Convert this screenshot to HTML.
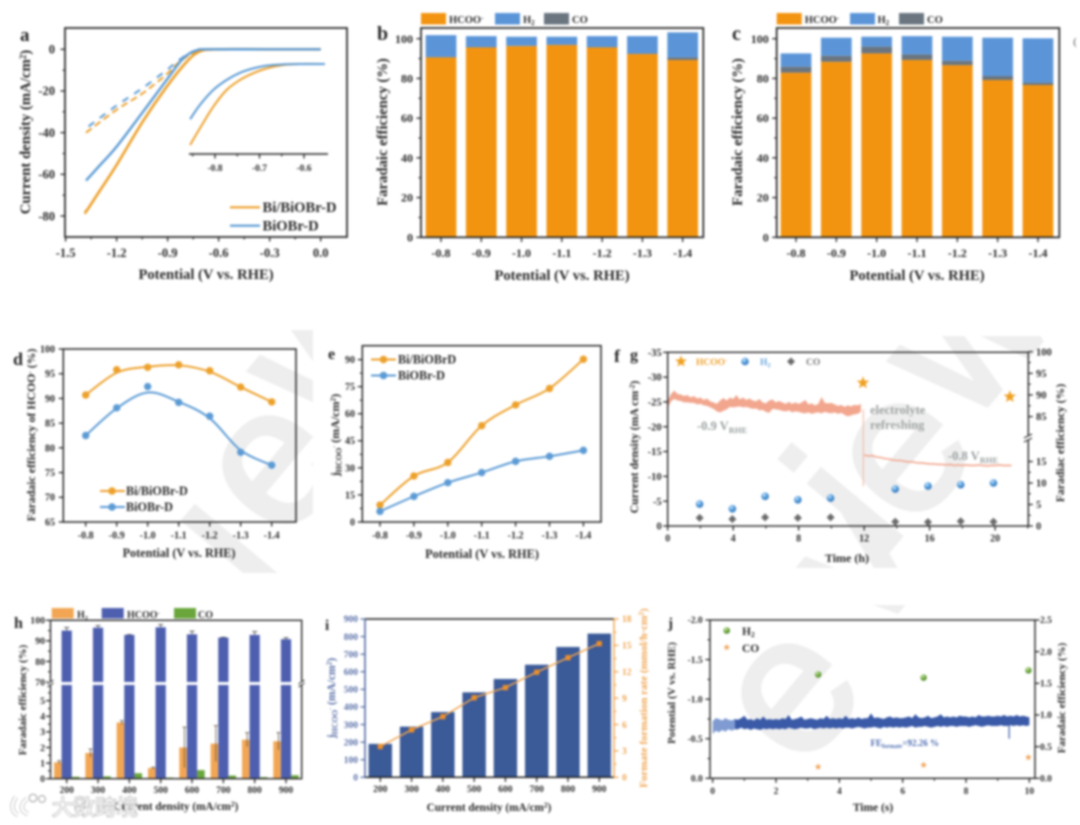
<!DOCTYPE html>
<html lang="en">
<head>
<meta charset="utf-8">
<title>Electrocatalysis figure panels a-j</title>
<style>
html,body{margin:0;padding:0;background:#fff;width:1080px;height:825px;overflow:hidden}
svg{display:block;overflow:hidden;filter:blur(1px)}
svg text{font-family:"Liberation Serif","Noto Serif CJK SC",serif;font-weight:bold;fill:#2a2a2a}
svg text.wm{font-family:"Liberation Sans",sans-serif;font-weight:normal;font-size:195px;fill:#eeeeee;stroke:#eeeeee;stroke-width:5}
</style>
</head>
<body>
<svg id="fig" width="1080" height="825" viewBox="0 0 1080 825" xmlns="http://www.w3.org/2000/svg">
<defs>
<radialGradient id="ballBlue" cx="38%" cy="32%" r="70%"><stop offset="0" stop-color="#d7ecff"/><stop offset=".45" stop-color="#5aa2e0"/><stop offset="1" stop-color="#3577b8"/></radialGradient>
<radialGradient id="ballGreen" cx="38%" cy="32%" r="70%"><stop offset="0" stop-color="#d6eeb8"/><stop offset=".5" stop-color="#72ab42"/><stop offset="1" stop-color="#4c8528"/></radialGradient>
<clipPath id="wmClip"><rect x="0" y="330" width="313" height="243"/><rect x="610" y="336" width="470" height="232"/><rect x="610" y="605" width="470" height="220"/></clipPath>
</defs>
<rect width="1080" height="825" fill="#fff"/>

<g clip-path="url(#wmClip)">
<text class="wm" transform="translate(215 535) rotate(-50)" y="70" text-anchor="middle">ı</text>
<text class="wm" transform="translate(278 470) rotate(-50)" y="51" text-anchor="middle">e</text>
<text class="wm" transform="translate(335 350) rotate(-50)" y="51" text-anchor="middle">w</text>
<text class="wm" transform="translate(841 498) rotate(-50)" y="70" text-anchor="middle">i</text>
<text class="wm" transform="translate(908 458) rotate(-50)" y="51" text-anchor="middle">e</text>
<text class="wm" transform="translate(975 340) rotate(-50)" y="51" text-anchor="middle">w</text>
<text class="wm" transform="translate(797 698) rotate(-50)" y="51" text-anchor="middle">e</text>
<text class="wm" transform="translate(865 570) rotate(-50)" y="51" text-anchor="middle">v</text>
</g>

<!-- Panel a -->
<g>
<g id="marks-a"></g>
<text x="20" y="41" font-size="19">a</text>
<text transform="translate(30 132) rotate(-90)" text-anchor="middle" font-size="14.8">Current density (mA/cm<tspan dy="-4" font-size="9">2</tspan><tspan dy="4">)</tspan></text>
<text x="206" y="279" text-anchor="middle" font-size="14.6">Potential (V vs. RHE)</text>
<line x1="230" x2="260" y1="207.3" y2="207.3" stroke="#eda12c" stroke-width="2.2"/>
<text x="262.5" y="212" font-size="14.6">Bi/BiOBr-D</text>
<line x1="230" x2="260" y1="225.7" y2="225.7" stroke="#5c9bd5" stroke-width="2.2"/>
<text x="262.5" y="230.5" font-size="14.6">BiOBr-D</text>
</g>

<!-- Panel b -->
<g>
<g id="marks-b"></g>
<text x="377" y="40" font-size="20">b</text>
<text transform="translate(387 132) rotate(-90)" text-anchor="middle" font-size="14.7">Faradaic efficiency (%)</text>
<text x="562" y="280" text-anchor="middle" font-size="14.6">Potential (V vs. RHE)</text>
<rect x="421" y="13" width="25" height="11.5" fill="#f39410"/>
<text x="449" y="23" font-size="10.5">HCOO<tspan dy="-3" font-size="7">-</tspan></text>
<rect x="495" y="13" width="25" height="11.5" fill="#5b95d8"/>
<text x="523" y="23" font-size="10.5">H<tspan dy="2" font-size="7">2</tspan></text>
<rect x="544" y="13" width="25" height="11.5" fill="#6a7580"/>
<text x="572" y="23" font-size="10.5">CO</text>
</g>

<!-- Panel c -->
<g>
<g id="marks-c"></g>
<text x="732" y="40" font-size="20">c</text>
<text transform="translate(742 132) rotate(-90)" text-anchor="middle" font-size="14.7">Faradaic efficiency (%)</text>
<text x="917" y="280" text-anchor="middle" font-size="14.6">Potential (V vs. RHE)</text>
<rect x="776.7" y="13" width="25" height="11.5" fill="#f39410"/>
<text x="804.7" y="23" font-size="10.5">HCOO<tspan dy="-3" font-size="7">-</tspan></text>
<rect x="850" y="13" width="25" height="11.5" fill="#5b95d8"/>
<text x="877.5" y="23" font-size="10.5">H<tspan dy="2" font-size="7">2</tspan></text>
<rect x="899" y="13" width="25" height="11.5" fill="#6a7580"/>
<text x="927" y="23" font-size="10.5">CO</text>
<text x="1073" y="45" font-size="11" style="fill:#888">(</text>
</g>

<!-- Panel d -->
<g>
<g id="marks-d"></g>
<text x="13" y="365" font-size="18">d</text>
<text transform="translate(35 435) rotate(-90)" text-anchor="middle" font-size="11.8">Faradaic efficiency of HCOO<tspan dy="-3" font-size="7.5">-</tspan><tspan dy="3"> (%)</tspan></text>
<text x="179" y="557" text-anchor="middle" font-size="12.2">Potential (V vs. RHE)</text>
<line x1="100" x2="125" y1="491" y2="491" stroke="#eda12c" stroke-width="2"/>
<circle cx="112" cy="491" r="3.8" fill="#eda12c"/>
<text x="126" y="495" font-size="12.2">Bi/BiOBr-D</text>
<line x1="100" x2="125" y1="507" y2="507" stroke="#5c9bd5" stroke-width="2"/>
<circle cx="112" cy="507" r="3.8" fill="#5c9bd5"/>
<text x="126" y="511" font-size="12.2">BiOBr-D</text>
</g>

<!-- Panel e -->
<g>
<g id="marks-e"></g>
<text x="328" y="359" font-size="16">e</text>
<text transform="translate(339 435) rotate(-90)" text-anchor="middle" font-size="12">j<tspan dy="2.5" font-size="8">HCOO</tspan><tspan dy="-5.5" font-size="6">-</tspan><tspan dy="3"> (mA/cm</tspan><tspan dy="-3.5" font-size="7.5">2</tspan><tspan dy="3.5">)</tspan></text>
<text x="482" y="558" text-anchor="middle" font-size="12.3">Potential (V vs. RHE)</text>
<line x1="371" x2="396" y1="359.5" y2="359.5" stroke="#eda12c" stroke-width="2"/>
<circle cx="383.5" cy="359.5" r="3.8" fill="#eda12c"/>
<text x="398" y="363.5" font-size="12.2">Bi/BiOBrD</text>
<line x1="371" x2="396" y1="375.5" y2="375.5" stroke="#5c9bd5" stroke-width="2"/>
<circle cx="383.5" cy="375.5" r="3.8" fill="#5c9bd5"/>
<text x="398" y="379.5" font-size="12.2">BiOBr-D</text>
</g>

<!-- Panel f -->
<g>
<g id="marks-f"></g>
<text x="614" y="362" font-size="18">f</text>
<text x="630" y="360" font-size="16">g</text>
<text transform="translate(638 447) rotate(-90)" text-anchor="middle" font-size="11.8">Current density (mA cm<tspan dy="-3.5" font-size="7.5">-2</tspan><tspan dy="3.5">)</tspan></text>
<text transform="translate(1064 443) rotate(-90)" text-anchor="middle" font-size="11.8">Faradiac efficiency  (%)</text>
<text x="847" y="562" text-anchor="middle" font-size="12">Time (h)</text>
<text x="697" y="430" font-size="12.5" style="fill:#9aa0a0">-0.9 V<tspan dy="3" font-size="8.5" style="fill:#9aa0a0">RHE</tspan></text>
<text x="870" y="414" font-size="12.5" style="fill:#a0a4a4">electrolyte</text>
<text x="870" y="429" font-size="12.5" style="fill:#a0a4a4">refreshing</text>
<text x="948" y="460" font-size="12.5" style="fill:#9aa0a0">-0.8 V<tspan dy="3" font-size="8.5" style="fill:#9aa0a0">RHE</tspan></text>
<text x="696" y="365" font-size="9.5" style="fill:#eda12c">HCOO<tspan dy="-3" font-size="6.5" style="fill:#eda12c">-</tspan></text>
<circle cx="745" cy="361.5" r="3.8" fill="url(#ballBlue)"/>
<text x="760" y="365" font-size="9.5" style="fill:#6aa5dc">H<tspan dy="2" font-size="6.5" style="fill:#6aa5dc">2</tspan></text>
<text x="806" y="365" font-size="9.5" style="fill:#777">CO</text>
</g>

<!-- Panel h -->
<g>
<g id="marks-h"></g>
<text x="14" y="628" font-size="16">h</text>
<text transform="translate(26 700) rotate(-90)" text-anchor="middle" font-size="11">Faradaic efficiency (%)</text>
<text x="176" y="810" text-anchor="middle" font-size="11.2">Current density (mA/cm<tspan dy="-3.5" font-size="7.5">2</tspan><tspan dy="3.5">)</tspan></text>
<rect x="51.7" y="608" width="22" height="10.5" fill="#f2a654"/>
<text x="77" y="618" font-size="10">H<tspan dy="2" font-size="6.5">2</tspan></text>
<rect x="101.7" y="608" width="22" height="10.5" fill="#4e5fb0"/>
<text x="127" y="618" font-size="10">HCOO<tspan dy="-3" font-size="6.5">-</tspan></text>
<rect x="174" y="608" width="22" height="10.5" fill="#6aa63c"/>
<text x="198" y="618" font-size="10">CO</text>
</g>

<!-- Panel i -->
<g>
<g id="marks-i"></g>
<text x="325" y="630" font-size="15">i</text>
<text transform="translate(335 698) rotate(-90)" text-anchor="middle" font-size="11.5" style="fill:#5a70a8">j<tspan dy="2.5" font-size="8" style="fill:#5a70a8">HCOO</tspan><tspan dy="-5.5" font-size="6" style="fill:#5a70a8">-</tspan><tspan dy="3" style="fill:#5a70a8"> (mA/cm</tspan><tspan dy="-3.5" font-size="7.5" style="fill:#5a70a8">2</tspan><tspan dy="3.5" style="fill:#5a70a8">)</tspan></text>
<text transform="translate(647 698) rotate(-90)" text-anchor="middle" font-size="11" style="fill:#f0a552">Formate formation rate (mmol/h·cm<tspan dy="-3.5" font-size="7.5" style="fill:#f0a552">2</tspan><tspan dy="3.5" style="fill:#f0a552">)</tspan></text>
<text x="489" y="811" text-anchor="middle" font-size="11.2">Current density (mA/cm<tspan dy="-3.5" font-size="7.5">2</tspan><tspan dy="3.5">)</tspan></text>
</g>

<!-- Panel j -->
<g>
<g id="marks-j"></g>
<text x="668" y="628" font-size="15">j</text>
<text transform="translate(675 693) rotate(-90)" text-anchor="middle" font-size="11">Potential (V vs. RHE)</text>
<text transform="translate(1065 698) rotate(-90)" text-anchor="middle" font-size="11">Faradaic efficiency (%)</text>
<text x="873" y="811" text-anchor="middle" font-size="11.5">Time (s)</text>
<text x="870.5" y="746" font-size="9" style="fill:#4a6ab0">FE<tspan dy="2" font-size="6" style="fill:#4a6ab0">formate</tspan><tspan dy="-2" style="fill:#4a6ab0">=92.26 %</tspan></text>
<circle cx="726.7" cy="630.5" r="3.3" fill="url(#ballGreen)"/>
<text x="742" y="635" font-size="11.5">H<tspan dy="2" font-size="7.5">2</tspan></text>
<text x="742" y="652" font-size="11.5">CO</text>
</g>

<!-- Site watermark -->
<g>
<path d="M16 797 C11 804 11 812 18 815 M27 799 C20 804 20 811 28 814" fill="none" stroke="#b5b5b5" stroke-width="4.4"/>
<path d="M16 797 C11 804 11 812 18 815 M27 799 C20 804 20 811 28 814" fill="none" stroke="#fff" stroke-width="3"/>
<circle cx="33" cy="798" r="3.8" fill="#fff" stroke="#aaa" stroke-width="1.1"/>
<circle cx="42" cy="799" r="3.4" fill="#fff" stroke="#aaa" stroke-width="1.1"/>
<text x="52" y="815" font-size="21.5" style="font-family:'Noto Sans CJK SC','WenQuanYi Zen Hei',sans-serif;font-weight:normal;fill:#fff;stroke:#a8a8a8;stroke-width:1.2;paint-order:stroke">大数跨境</text>
</g>
</svg>

<script>
/* ---------- Panel a data ---------- */
const aXTicks = [-1.5,-1.2,-0.9,-0.6,-0.3,0];
const aXLabels = ['-1.5','-1.2','-0.9','-0.6','-0.3','0.0'];
const aXMinor = [-1.35,-1.05,-0.75,-0.45,-0.15];
const aYTicks = [0,-20,-40,-60,-80];
const aYMinor = [-10,-30,-50,-70];
const aV1 = [-1.385,-1.38,-1.372,-1.3,-1.2,-1.045,-0.906,-0.788,-0.71,-0.61,-0.3,0.0];
const aBiSolid = [-79,-77.5,-77,-68,-55.5,-34.5,-18,-6,-1,0,0,0];
const aV2 = [-1.38,-1.3,-1.2,-1.045,-0.906,-0.808,-0.73,-0.66,-0.3,0.0];
const aBlueSolid = [-63,-55.8,-46.7,-30,-14.7,-4.3,-0.5,0,0,0];
const aV3 = [-1.38,-1.2,-1.045,-0.906,-0.83,-0.73,-0.63,-0.3,0.0];
const aBiDash = [-40,-29,-21,-12,-6,-1,0,0,0];
const aV4 = [-1.365,-1.2,-1.045,-0.906,-0.83,-0.75,-0.65,-0.3,0.0];
const aBlueDash = [-37,-27,-18.5,-10,-5,-1,0,0,0];
const insetV = [-0.856,-0.834,-0.804,-0.774,-0.744,-0.714,-0.684,-0.647,-0.609,-0.553];
const insetBi = [-20.25,-16.1,-10.7,-6.5,-4,-2.3,-1.1,-0.25,0,0];
const insetBlue = [-13.8,-10.25,-6.5,-4,-2.2,-1.1,-0.4,-0.1,0,0];
const insetTicks = [-0.8,-0.7,-0.6];
const insetLabels = ['-0.8','-0.7','-0.6'];
const insetMinor = [-0.85,-0.75,-0.65];

/* ---------- Shared potential categories ---------- */
const potentialLabels = ['-0.8','-0.9','-1.0','-1.1','-1.2','-1.3','-1.4'];
const feTicks = [0,20,40,60,80,100];
const feMinor = [10,30,50,70,90];

/* ---------- Panel b data ---------- */
const bHcoo = [90.6,95.6,96.3,96.8,95.6,92.3,89.3];
const bCo = [0.2,0.2,0.1,0.2,0.2,0.2,1.3];
const bH2 = [11,5.5,4.6,4.0,5.5,8.8,12.6];

/* ---------- Panel c data ---------- */
const cHcoo = [82.9,88.4,92.6,89.3,86.7,79.2,76.7];
const cCo = [3.0,3.0,3.4,2.8,2.2,2.0,1.2];
const cH2 = [6.7,9.1,5.0,9.2,12.1,19.3,22.3];

/* ---------- Panel d data ---------- */
const dYTicks = [65,70,75,80,85,90,95,100];
const dBiPoints = [90.7,95.8,96.3,96.8,95.6,92.3,89.3];
const dBiFit = [90.7,95.2,96.4,96.7,95.4,92.3,89.3];
const dBluePoints = [82.5,88.1,92.4,89.2,86.4,79.1,76.5];
const dBlueFit = [82.5,88,91.2,89.3,86,79.5,76.5];

/* ---------- Panel e data ---------- */
const eYTicks = [0,15,30,45,60,75,90];
const eYMinor = [7.5,22.5,37.5,52.5,67.5,82.5];
const eBi = [9.4,25.5,33,53.4,64.9,74,90.2];
const eBlue = [5.9,14.2,21.8,27.4,33.6,36.4,39.7];

/* ---------- Panel f data ---------- */
const fXTicks = [0,4,8,12,16,20];
const fXMinor = [2,6,10,14,18,22];
const fYTicks = [0,-5,-10,-15,-20,-25,-30,-35];
const fYLabels = ['0','-5','-10','-15','-20','-25','-30','-35'];
const fRightTicks = [0,5,10,15,85,90,95,100];
const currentStepA = 0.2;
const currentAUpper = [
-25.2,-26.6,-27.3,-26.6,-26.5,-26.2,-26.4,-25.9,-26.2,-25.7,
-25.9,-25.4,-25.7,-25.1,-24.9,-24.6,-25.3,-25.8,-25.3,-25.9,
-25.6,-26.4,-25.5,-25.9,-25.4,-25.7,-25.3,-25.1,-25.6,-24.9,
-24.7,-25.3,-25.5,-24.9,-25.2,-24.9,-24.6,-25.0,-24.6,-24.9,
-24.6,-24.9,-25.4,-24.5,-24.7,-24.3,-24.6,-26.0,-24.8,-24.7,
-24.8,-24.5,-24.2,-24.4,-24.0,-24.3,-24.1,-24.4,-24.3,-24.6];
const currentALower = [
-23.8,-25.1,-25.6,-25.3,-25.2,-24.9,-24.9,-24.8,-24.8,-24.5,
-24.6,-24.3,-24.2,-23.9,-23.6,-23.1,-22.9,-23.2,-23.5,-24.0,
-23.9,-24.0,-24.1,-23.9,-24.0,-23.8,-23.6,-23.7,-23.3,-23.4,
-23.0,-22.8,-23.6,-23.5,-23.4,-23.2,-23.1,-23.3,-22.9,-23.1,
-23.0,-22.8,-22.7,-22.9,-22.6,-22.8,-22.9,-22.7,-23.0,-22.8,
-22.7,-22.9,-22.6,-22.8,-22.4,-22.1,-22.3,-22.5,-22.6,-23.0];
const spikeTime = 11.95;
const spikeTop = -23.5;
const spikeBottom = -8;
const currentStartB = 12;
const currentStepB = 0.25;
const currentB = [-14.3,-14.1,-14.2,-13.9,-13.8,-13.6,-13.5,-13.3,-13.2,-13.2,-13.0,-12.9,-12.9,-12.7,-12.7,-12.6,-12.5,-12.5,-12.4,-12.4,-12.3,-12.4,-12.2,-12.3,-12.2,-12.3,-12.2,-12.2,-12.3,-12.2,-12.1,-12.2,-12.2,-12.3,-12.2,-12.2,-12.2];
const fHcooTimes = [11.93,20.9];
const fHcooValues = [92.8,89.6];
const fSampleTimes = [1.95,3.95,5.95,7.95,9.95,13.9,15.9,17.9,19.9];
const fH2Values = [5.1,4,6.9,6.1,6.5,8.6,9.3,9.6,10];
const fCoValues = [1.9,1.6,2,1.9,2,1,0.9,1.1,1];

/* ---------- Panel h data ---------- */
const hCategories = ['200','300','400','500','600','700','800','900'];
const hHcoo = [95,96.4,92.9,96.6,93.2,91.6,92.9,90.8];
const hHcooErr = [1.5,1,0.1,1.3,1.5,0.1,1.6,0.7];
const hH2 = [1.05,1.65,3.6,0.68,2,2.25,2.5,2.4];
const hH2Err = [0.1,0.25,0.12,0.05,1.3,1.15,0.45,0.55];
const hCo = [0.12,0.15,0.35,0.07,0.55,0.2,0.1,0.22];
const hLowTicks = [0,1,2,3,4,5];
const hHighTicks = [70,80,90,100];
const hLowMinor = [0.5,1.5,2.5,3.5,4.5,5.5];
const hHighMinor = [75,85,95];

/* ---------- Panel i data ---------- */
const iCategories = ['200','300','400','500','600','700','800','900'];
const iBars = [190,288,371,483,559,640,741,817];
const iRate = [3.5,5.4,6.9,9.05,10.2,11.95,13.6,15.2];
const iLeftTicks = [0,100,200,300,400,500,600,700,800,900];
const iRightTicks = [0,3,6,9,12,15,18];
const iRightMinor = [1.5,4.5,7.5,10.5,13.5,16.5];

/* ---------- Panel j data ---------- */
const jXTicks = [0,2,4,6,8,10];
const jXMinor = [1,3,5,7,9];
const jLeftTicks = [0,-0.5,-1,-1.5,-2];
const jLeftLabels = ['0.0','-0.5','-1.0','-1.5','-2.0'];
const jLeftMinor = [-0.25,-0.75,-1.25,-1.75];
const jRightTicks = [0,0.5,1,1.5,2,2.5];
const jRightLabels = ['0.0','0.5','1.0','1.5','2.0','2.5'];
const potentialStep = 0.1;
const potentialUpper = [
-0.72,-0.76,-0.75,-0.73,-0.76,-0.74,-0.73,-0.75,-0.74,-0.76,
-0.79,-0.74,-0.75,-0.73,-0.76,-0.74,-0.78,-0.74,-0.75,-0.74,
-0.75,-0.74,-0.76,-0.75,-0.80,-0.74,-0.75,-0.76,-0.78,-0.74,
-0.75,-0.76,-0.75,-0.74,-0.76,-0.75,-0.79,-0.75,-0.76,-0.75,
-0.76,-0.75,-0.79,-0.75,-0.76,-0.75,-0.77,-0.75,-0.76,-0.76,
-0.82,-0.76,-0.77,-0.76,-0.75,-0.77,-0.78,-0.76,-0.77,-0.76,
-0.76,-0.77,-0.78,-0.76,-0.81,-0.77,-0.76,-0.77,-0.79,-0.76,
-0.77,-0.78,-0.81,-0.77,-0.78,-0.77,-0.78,-0.77,-0.79,-0.78,
-0.78,-0.77,-0.78,-0.77,-0.80,-0.78,-0.78,-0.79,-0.78,-0.78,
-0.79,-0.78,-0.80,-0.78,-0.79,-0.78,-0.80,-0.78,-0.79,-0.78,-0.77];
const potentialLower = [
-0.56,-0.60,-0.58,-0.61,-0.59,-0.62,-0.60,-0.62,-0.62,-0.64,
-0.62,-0.63,-0.61,-0.63,-0.62,-0.61,-0.63,-0.62,-0.63,-0.62,
-0.63,-0.62,-0.63,-0.62,-0.64,-0.63,-0.62,-0.63,-0.64,-0.63,
-0.63,-0.64,-0.62,-0.63,-0.64,-0.63,-0.64,-0.63,-0.64,-0.63,
-0.64,-0.63,-0.64,-0.64,-0.63,-0.64,-0.65,-0.64,-0.63,-0.64,
-0.64,-0.65,-0.64,-0.63,-0.65,-0.64,-0.65,-0.64,-0.65,-0.64,
-0.65,-0.64,-0.65,-0.66,-0.64,-0.65,-0.65,-0.66,-0.65,-0.64,
-0.65,-0.66,-0.65,-0.66,-0.65,-0.66,-0.66,-0.65,-0.66,-0.66,
-0.66,-0.65,-0.66,-0.67,-0.66,-0.65,-0.66,-0.67,-0.66,-0.66,
-0.66,-0.67,-0.66,-0.66,-0.67,-0.66,-0.67,-0.66,-0.67,-0.66,-0.67];
const jDipTime = 9.36;
const jDipValue = -0.5;
const jDipStart = -0.68;
const jSampleTimes = [3.33,6.66,9.97];
const jH2 = [1.64,1.59,1.705];
const jCo = [0.18,0.21,0.33];

/* ---------- Helpers ---------- */
const NS = 'http://www.w3.org/2000/svg';
function add(parent, tag, attrs, name, text) {
  const el = document.createElementNS(NS, tag);
  for (const k in attrs) el.setAttribute(k, attrs[k]);
  
  
  if (text !== undefined) el.textContent = text;
  parent.appendChild(el);
  return el;
}
function linear(d0, d1, r0, r1) { return v => r0 + (v - d0) * (r1 - r0) / (d1 - d0); }
function band(first, step) { return i => first + i * step; }
const INK = '#262626';
function axisBottom(g, sx, ticks, labels, minors, y, labelY, size, color) {
  ticks.forEach((t, i) => {
    add(g, 'line', {x1:sx(t),x2:sx(t),y1:y,y2:y+4.5,stroke:color||INK,'stroke-width':1.3}, 'x-tick');
    add(g, 'text', {x:sx(t),y:labelY,'text-anchor':'middle','font-size':size}, 'x-tick-label', labels[i]);
  });
  (minors||[]).forEach(t => add(g, 'line', {x1:sx(t),x2:sx(t),y1:y,y2:y+2.5,stroke:color||INK,'stroke-width':1.1}, 'x-minor-tick'));
}
function axisSide(g, sy, ticks, labels, minors, x, dir, labelX, size, color, textColor) {
  ticks.forEach((t, i) => {
    add(g, 'line', {x1:x,x2:x+dir*4.5,y1:sy(t),y2:sy(t),stroke:color||INK,'stroke-width':1.3}, 'y-tick');
    const lab = add(g, 'text', {x:labelX,y:sy(t)+size*0.34,'text-anchor':dir<0?'end':'start','font-size':size}, 'y-tick-label', labels[i]);
    if (textColor) lab.style.fill = textColor;
  });
  (minors||[]).forEach(t => add(g, 'line', {x1:x,x2:x+dir*2.5,y1:sy(t),y2:sy(t),stroke:color||INK,'stroke-width':1.1}, 'y-minor-tick'));
}
function frame(g, x0, y0, x1, y1, w) {
  add(g, 'rect', {x:x0,y:y0,width:x1-x0,height:y1-y0,fill:'none',stroke:INK,'stroke-width':w||1.7}, 'plot-frame');
}
function smooth(pts) {
  let d = 'M' + pts[0][0].toFixed(2) + ' ' + pts[0][1].toFixed(2);
  for (let i = 0; i < pts.length - 1; i++) {
    const p0 = pts[i-1] || pts[i], p1 = pts[i], p2 = pts[i+1], p3 = pts[i+2] || p2;
    const c1x = p1[0] + (p2[0]-p0[0])/6, c1y = p1[1] + (p2[1]-p0[1])/6;
    const c2x = p2[0] - (p3[0]-p1[0])/6, c2y = p2[1] - (p3[1]-p1[1])/6;
    d += 'C' + c1x.toFixed(2)+' '+c1y.toFixed(2)+' '+c2x.toFixed(2)+' '+c2y.toFixed(2)+' '+p2[0].toFixed(2)+' '+p2[1].toFixed(2);
  }
  return d;
}
function straight(pts) { return 'M' + pts.map(p => p[0].toFixed(2)+' '+p[1].toFixed(2)).join('L'); }
function envelope(upper, lower, xOf, sy, from, to) {
  const top = [], bottom = [];
  for (let i = from; i <= to; i++) {
    top.push([xOf(i), sy(upper[i])]);
    bottom.unshift([xOf(i), sy(lower[i])]);
  }
  return straight(top.concat(bottom)) + 'Z';
}
function star(g, cx, cy, r, fill, name) {
  const p = [];
  for (let i = 0; i < 10; i++) {
    const a = -Math.PI/2 + i*Math.PI/5, rr = i%2 ? r*0.42 : r;
    p.push((cx+rr*Math.cos(a)).toFixed(2)+','+(cy+rr*Math.sin(a)).toFixed(2));
  }
  return add(g, 'polygon', {points:p.join(' '),fill:fill}, name);
}
function diamond(g, cx, cy, r, fill, name) {
  const pts = (cx)+','+(cy-r)+' '+(cx+r)+','+cy+' '+cx+','+(cy+r)+' '+(cx-r)+','+cy;
  return add(g, 'polygon', {points:pts,fill:fill}, name);
}
function zip(xs, ys, sx, sy) { return xs.map((x,i)=>[sx(x),sy(ys[i])]); }
function stacked(id, hcoo, co, h2, first, step, x0, x1) {
  const g = document.getElementById(id);
  const sy = linear(0, 100, 237.3, 38.7);
  const sb = band(first, step), w = 30.7;
  hcoo.forEach((v, i) => {
    const cx = sb(i);
    add(g, 'rect', {x:cx-w/2,y:sy(v),width:w,height:sy(0)-sy(v),fill:'#f39410'}, 'bar-hcoo');
    add(g, 'rect', {x:cx-w/2,y:sy(v+co[i]),width:w,height:sy(v)-sy(v+co[i]),fill:'#6a7580'}, 'bar-co');
    add(g, 'rect', {x:cx-w/2,y:sy(v+co[i]+h2[i]),width:w,height:sy(v+co[i])-sy(v+co[i]+h2[i]),fill:'#5b95d8'}, 'bar-h2');
    add(g, 'line', {x1:cx,x2:cx,y1:237.3,y2:242,stroke:INK,'stroke-width':1.3}, 'x-tick');
    add(g, 'text', {x:cx,y:257,'text-anchor':'middle','font-size':12}, 'x-tick-label', potentialLabels[i]);
  });
  axisSide(g, sy, feTicks, feTicks.map(String), feMinor, x0, -1, x0-8, 12);
  frame(g, x0, 28, x1, 237.3);
}

/* ---------- Panel a ---------- */
(function(){
  const g = document.getElementById('marks-a');
  const sx = linear(0, -1.5, 320.7, 65.6), sy = linear(0, -80, 49.3, 216);
  add(g, 'path', {d:smooth(zip(aV3,aBiDash,sx,sy)),fill:'none',stroke:'#eda12c','stroke-width':2,'stroke-dasharray':'7 4'}, 'curve-bi-biobr-d-dashed');
  add(g, 'path', {d:smooth(zip(aV4,aBlueDash,sx,sy)),fill:'none',stroke:'#5c9bd5','stroke-width':2,'stroke-dasharray':'7 7'}, 'curve-biobr-d-dashed');
  add(g, 'path', {d:smooth(zip(aV1,aBiSolid,sx,sy)),fill:'none',stroke:'#eda12c','stroke-width':2.6}, 'curve-bi-biobr-d');
  add(g, 'path', {d:smooth(zip(aV2,aBlueSolid,sx,sy)),fill:'none',stroke:'#5c9bd5','stroke-width':2.4}, 'curve-biobr-d');
  axisBottom(g, sx, aXTicks, aXLabels, aXMinor, 237, 257, 12.5);
  axisSide(g, sy, aYTicks, aYTicks.map(String), aYMinor, 65, -1, 55, 12.5);
  frame(g, 65, 28, 347, 237);
  const ix = linear(-0.8, -0.6, 215, 304), iy = linear(0, -20, 64, 144);
  add(g, 'path', {d:smooth(zip(insetV,insetBi,ix,iy)),fill:'none',stroke:'#eda12c','stroke-width':2}, 'inset-curve-bi-biobr-d');
  add(g, 'path', {d:smooth(zip(insetV,insetBlue,ix,iy)),fill:'none',stroke:'#5c9bd5','stroke-width':2}, 'inset-curve-biobr-d');
  add(g, 'line', {x1:189,x2:328,y1:154,y2:154,stroke:INK,'stroke-width':1.5}, 'inset-x-axis');
  axisBottom(g, ix, insetTicks, insetLabels, insetMinor, 154, 171, 9.5);
})();

/* ---------- Panels b, c ---------- */
stacked('marks-b', bHcoo, bCo, bH2, 441, 40.28, 421, 703.3);
stacked('marks-c', cHcoo, cCo, cH2, 796, 40.33, 776.7, 1059.3);

/* ---------- Panel d ---------- */
(function(){
  const g = document.getElementById('marks-d');
  const sb = band(85.7, 31), sy = linear(65, 100, 522, 349);
  const idx = dBiFit.map((_,i)=>i);
  add(g, 'path', {d:smooth(idx.map(i=>[sb(i),sy(dBiFit[i])])),fill:'none',stroke:'#eda12c','stroke-width':2}, 'curve-bi-biobr-d');
  add(g, 'path', {d:smooth(idx.map(i=>[sb(i),sy(dBlueFit[i])])),fill:'none',stroke:'#5c9bd5','stroke-width':2}, 'curve-biobr-d');
  dBiPoints.forEach((v,i)=>add(g,'circle',{cx:sb(i),cy:sy(v),r:3.7,fill:'#eda12c'},'point-bi-biobr-d'));
  dBluePoints.forEach((v,i)=>add(g,'circle',{cx:sb(i),cy:sy(v),r:3.7,fill:'#5c9bd5'},'point-biobr-d'));
  axisBottom(g, sb, idx, potentialLabels, null, 522, 538.5, 10);
  axisSide(g, sy, dYTicks, dYTicks.map(String), null, 63.3, -1, 55, 10);
  frame(g, 63.3, 349, 296, 522, 1.5);
})();

/* ---------- Panel e ---------- */
(function(){
  const g = document.getElementById('marks-e');
  const sb = band(380, 33.9), sy = linear(0, 90, 522, 359.6);
  const idx = eBi.map((_,i)=>i);
  add(g, 'path', {d:smooth(idx.map(i=>[sb(i),sy(eBi[i])])),fill:'none',stroke:'#eda12c','stroke-width':2}, 'curve-bi-biobrd');
  add(g, 'path', {d:smooth(idx.map(i=>[sb(i),sy(eBlue[i])])),fill:'none',stroke:'#5c9bd5','stroke-width':2}, 'curve-biobr-d');
  eBi.forEach((v,i)=>add(g,'circle',{cx:sb(i),cy:sy(v),r:3.7,fill:'#eda12c'},'point-bi-biobrd'));
  eBlue.forEach((v,i)=>add(g,'circle',{cx:sb(i),cy:sy(v),r:3.7,fill:'#5c9bd5'},'point-biobr-d'));
  axisBottom(g, sb, idx, potentialLabels, null, 522, 538.5, 10);
  axisSide(g, sy, eYTicks, eYTicks.map(String), eYMinor, 362.3, -1, 355, 10);
  frame(g, 362.3, 345.7, 601, 522, 1.5);
})();

/* ---------- Panel f ---------- */
(function(){
  const g = document.getElementById('marks-f');
  const sx = linear(0, 20, 667.7, 995.1), sy = linear(0, -35, 526, 352.3);
  const lowFE = linear(0, 15, 526, 461.5), highFE = linear(85, 100, 416.6, 351.7);
  const sFE = v => v < 50 ? lowFE(v) : highFE(v);
  const xA = i => sx(i * currentStepA);
  add(g, 'path', {d:envelope(currentAUpper,currentALower,xA,sy,0,currentAUpper.length-1),fill:'#f2a68e'}, 'current-trace-minus-0-9-v');
  add(g, 'line', {x1:sx(spikeTime),x2:sx(spikeTime),y1:sy(spikeTop),y2:sy(spikeBottom),stroke:'#f4b8a4','stroke-width':1.1}, 'current-refresh-spike');
  add(g, 'path', {d:straight(currentB.map((v,i)=>[sx(currentStartB+i*currentStepB),sy(v)])),fill:'none',stroke:'#f2a68e','stroke-width':1.6}, 'current-trace-minus-0-8-v');
  fHcooValues.forEach((v,i)=>star(g, sx(fHcooTimes[i]), sFE(v), 6.6, '#f0a020', 'point-hcoo'));
  fH2Values.forEach((v,i)=>add(g,'circle',{cx:sx(fSampleTimes[i]),cy:sFE(v),r:3.8,fill:'url(#ballBlue)'},'point-h2'));
  fCoValues.forEach((v,i)=>diamond(g, sx(fSampleTimes[i]), sFE(v), 4, '#6b6b6b', 'point-co'));
  star(g, 681, 361.5, 6.2, '#f0a020', 'legend-marker-hcoo');
  diamond(g, 791, 361.5, 4, '#6b6b6b', 'legend-marker-co');
  axisBottom(g, sx, fXTicks, fXTicks.map(String), fXMinor, 526, 541.5, 10);
  axisSide(g, sy, fYTicks, fYLabels, null, 667.7, -1, 661.7, 10.5);
  axisSide(g, sFE, fRightTicks, fRightTicks.map(String), [2.5,7.5,12.5,87.5,92.5,97.5], 1028.3, 1, 1036, 10.5);
  frame(g, 667.7, 352.3, 1028.3, 526, 1.4);
  add(g,'rect',{x:1025,y:436,width:7,height:4,fill:'#fff'},'axis-break-gap');
  add(g,'line',{x1:1024,x2:1032,y1:438,y2:434,stroke:INK,'stroke-width':1.1},'axis-break-mark');
  add(g,'line',{x1:1024,x2:1032,y1:442,y2:438,stroke:INK,'stroke-width':1.1},'axis-break-mark');
})();

/* ---------- Panel h ---------- */
(function(){
  const g = document.getElementById('marks-h');
  const sb = band(66.7, 31.33);
  const low = linear(0, 5, 778.7, 700.7), high = linear(70, 100, 682, 620.3);
  const sy = v => v < 30 ? low(v) : high(v);
  hHcoo.forEach((v,i)=>{
    const cx = sb(i);
    add(g,'rect',{x:cx-12.7,y:sy(hH2[i]),width:7.6,height:778.7-sy(hH2[i]),fill:'#f2a654'},'bar-h2');
    add(g,'line',{x1:cx-7.5,x2:cx-7.5,y1:sy(hH2[i]+hH2Err[i]),y2:sy(hH2[i]-hH2Err[i]),stroke:'#5a4a35','stroke-width':.8},'error-bar-h2');
    add(g,'line',{x1:cx-9.5,x2:cx-5.5,y1:sy(hH2[i]+hH2Err[i]),y2:sy(hH2[i]+hH2Err[i]),stroke:'#5a4a35','stroke-width':.8},'error-cap-h2');
    add(g,'rect',{x:cx+5.1,y:sy(hCo[i]),width:7.6,height:778.7-sy(hCo[i]),fill:'#6aa63c'},'bar-co');
    add(g,'rect',{x:cx-5.1,y:sy(v),width:10.2,height:778.7-sy(v),fill:'#4e5fb0'},'bar-hcoo');
    add(g,'line',{x1:cx,x2:cx,y1:sy(v+hHcooErr[i]),y2:sy(v),stroke:'#333','stroke-width':.8},'error-bar-hcoo');
    add(g,'line',{x1:cx-2.5,x2:cx+2.5,y1:sy(v+hHcooErr[i]),y2:sy(v+hHcooErr[i]),stroke:'#333','stroke-width':.8},'error-cap-hcoo');
  });
  add(g,'rect',{x:52,y:682,width:248,height:3,fill:'#fff'},'axis-break-band');
  const idx = hCategories.map((_,i)=>i);
  axisBottom(g, sb, idx, hCategories, null, 778.7, 793, 9.5);
  axisSide(g, low, hLowTicks, hLowTicks.map(String), hLowMinor, 50.5, -1, 45, 9.8);
  axisSide(g, high, hHighTicks, hHighTicks.map(String), hHighMinor, 50.5, -1, 45, 9.8);
  frame(g, 50.5, 620.3, 301.7, 778.7, 1.4);
  add(g,'rect',{x:48,y:681.5,width:5,height:3.5,fill:'#fff'},'axis-break-gap-left');
  add(g,'rect',{x:299,y:681.5,width:5,height:3.5,fill:'#fff'},'axis-break-gap-right');
  [47.5,298.5].forEach(x=>{
    add(g,'line',{x1:x,x2:x+6,y1:684,y2:680,stroke:INK,'stroke-width':1},'axis-break-mark');
    add(g,'line',{x1:x,x2:x+6,y1:687,y2:683,stroke:INK,'stroke-width':1},'axis-break-mark');
  });
})();

/* ---------- Panel i ---------- */
(function(){
  const g = document.getElementById('marks-i');
  const sb = band(380.3, 31.28), yL = linear(0, 900, 777.3, 619), yR = linear(0, 18, 777.3, 619);
  iBars.forEach((v,i)=>add(g,'rect',{x:sb(i)-11.7,y:yL(v),width:23.4,height:777.3-yL(v),fill:'#3b5a98'},'bar-jhcoo'));
  const idx = iRate.map((_,i)=>i);
  add(g,'path',{d:straight(idx.map(i=>[sb(i),yR(iRate[i])])),fill:'none',stroke:'#f0a552','stroke-width':1.5},'line-formate-rate');
  iRate.forEach((v,i)=>add(g,'rect',{x:sb(i)-2.6,y:yR(v)-2.6,width:5.2,height:5.2,fill:'#ee8f2a'},'point-formate-rate'));
  axisBottom(g, sb, idx, iCategories, null, 777.3, 792, 9.5);
  axisSide(g, yL, iLeftTicks, iLeftTicks.map(String), null, 365, -1, 358, 9.5, '#5a70a8', '#5a70a8');
  axisSide(g, yR, iRightTicks, iRightTicks.map(String), iRightMinor, 614, 1, 622, 9.5, '#f0a552', '#f0a552');
  add(g,'line',{x1:365,x2:614,y1:619,y2:619,stroke:'#1e1e1e','stroke-width':1.5},'top-axis');
  add(g,'line',{x1:365,x2:614,y1:777.3,y2:777.3,stroke:'#1e1e1e','stroke-width':1.5},'bottom-axis');
  add(g,'line',{x1:365,x2:365,y1:619,y2:777.3,stroke:'#4a64a0','stroke-width':1.5},'left-axis');
  add(g,'line',{x1:614,x2:614,y1:619,y2:777.3,stroke:'#f0a552','stroke-width':1.5},'right-axis');
})();

/* ---------- Panel j ---------- */
(function(){
  const g = document.getElementById('marks-j');
  const sx = linear(0, 10, 712.67, 1029.37), yL = linear(0, -2, 778.3, 620), yR = linear(0, 2.5, 778.3, 620);
  const xP = i => sx(i * potentialStep);
  add(g,'path',{d:envelope(potentialUpper,potentialLower,xP,yL,0,7),fill:'#7f9bd2'},'potential-trace-start');
  add(g,'path',{d:envelope(potentialUpper,potentialLower,xP,yL,7,potentialUpper.length-1),fill:'#3a5aa8'},'potential-trace');
  add(g,'line',{x1:sx(jDipTime),x2:sx(jDipTime),y1:yL(jDipStart),y2:yL(jDipValue),stroke:'#3a5aa8','stroke-width':1.2},'potential-trace-dip');
  jH2.forEach((v,i)=>add(g,'circle',{cx:sx(jSampleTimes[i]),cy:yR(v),r:3.2,fill:'url(#ballGreen)'},'point-h2'));
  jCo.forEach((v,i)=>star(g, sx(jSampleTimes[i]), yR(v), 3.6, '#f0a25a', 'point-co'));
  star(g, 726.7, 647.3, 3.6, '#f0a25a', 'legend-marker-co');
  axisBottom(g, sx, jXTicks, jXTicks.map(String), jXMinor, 778.3, 794, 9.5);
  axisSide(g, yL, jLeftTicks, jLeftLabels, jLeftMinor, 710, -1, 702.7, 9.5);
  axisSide(g, yR, jRightTicks, jRightLabels, null, 1035, 1, 1040, 9.5);
  frame(g, 710, 620, 1035, 778.3, 1.4);
})();
</script>
</body>
</html>
